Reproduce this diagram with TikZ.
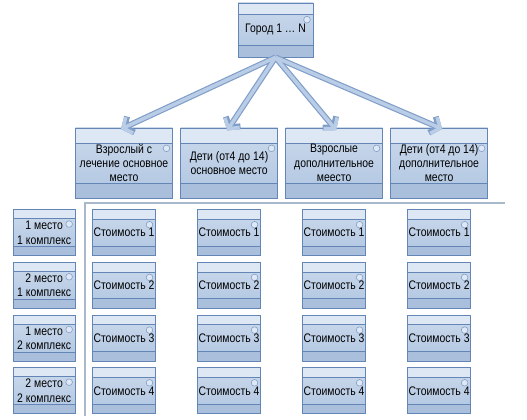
\documentclass[tikz,border=0pt]{standalone}
\usepackage{fontspec}
\setmainfont{Liberation Sans}[FakeStretch=0.84]
\usetikzlibrary{arrows.meta, positioning, calc}

\definecolor{umledge}{HTML}{6386B6}
\definecolor{umllight}{HTML}{DEE8F4}
\definecolor{umltop}{HTML}{CCDAEC}
\definecolor{umlbot}{HTML}{AFC5E1}
\definecolor{umldark}{HTML}{A9BFDC}
\definecolor{arredge}{HTML}{809EC8}
\definecolor{arrfill}{HTML}{BACDE7}
\definecolor{sepline}{HTML}{AAB8CC}

\begin{document}
\begin{tikzpicture}[
    x=0.03cm, y=-0.03cm,
    font=\fontsize{10.6}{12.2}\selectfont,
    uml/.style={rectangle, draw=umledge, line width=0.6pt,
                top color=umltop, bottom color=umlbot,
                align=center, inner sep=0pt,
                path picture={
                  \fill[umllight] (path picture bounding box.north west)
                    rectangle ([yshift=-#1]path picture bounding box.north east);
                  \fill[umldark] ([yshift=#1]path picture bounding box.south west)
                    rectangle (path picture bounding box.south east);
                  \draw[umledge] ([yshift=-#1]path picture bounding box.north west)
                    -- ([yshift=-#1]path picture bounding box.north east);
                  \draw[umledge] ([yshift=#1]path picture bounding box.south west)
                    -- ([yshift=#1]path picture bounding box.south east);
                  \draw[arredge, fill=umllight, line width=0.5pt]
                    ([xshift=-0.18cm, yshift=-#1-0.16cm]path picture bounding box.north east)
                    circle (0.1cm);
                }},
    town/.style={uml=0.34cm, minimum width=2.25cm, minimum height=1.62cm},
    cls/.style={uml=0.45cm, minimum width=2.91cm, minimum height=2.1cm},
    cost/.style={uml=0.29cm, minimum width=1.89cm, minimum height=1.38cm},
    place/.style={uml=0.27cm, minimum width=1.86cm, minimum height=1.38cm},
    arrback/.style={line width=5pt, draw=arredge, shorten >=-0.1cm,
                    -{Straight Barb[length=6pt, width=15pt]}},
    arrfront/.style={line width=3pt, draw=arrfill, shorten >=-0.1cm,
                     -{Straight Barb[length=6pt, width=15pt]}},
    sep/.style={draw=sepline, line width=1.1pt}
  ]
  \useasboundingbox (0,0) rectangle (527,420);

  \node[town] (town) at (275.5,30) {Город 1 \dots\ N};

  \node[cls] (b1) at (124,163) {Взрослый с\\лечение основное\\место};
  \node[cls, right=0.22cm of b1] (b2) {Дети (от4 до 14)\\основное место};
  \node[cls, right=0.22cm of b2] (b3) {Взрослые\\дополнительное\\меесто};
  \node[cls, right=0.22cm of b3] (b4) {Дети (от4 до 14)\\дополнительное\\место};

  % cost grid
  \foreach \col in {1,...,4} {
    \node[cost, below=0.33cm of b\col] (c\col-1) {Стоимость 1};
    \foreach \row [evaluate=\row as \prev using int(\row-1)] in {2,3,4}
      \node[cost, below=0.18cm of c\col-\prev] (c\col-\row) {Стоимость \row};
  }

  \node[place, left=0.5cm of c1-1] (p1) {1 место\\1 комплекс};
  \node[place, left=0.5cm of c1-2] (p2) {2 место\\1 комплекс};
  \node[place, left=0.5cm of c1-3] (p3) {1 место\\2 комплекс};
  \node[place, left=0.5cm of c1-4] (p4) {2 место\\2 комплекс};

  \coordinate (sepL) at (85,203);
  \coordinate (sepR) at (505,203);
  \coordinate (sepB) at (85,416);
  \draw[sep] (sepR) -- (sepL) -- (sepB);

  \foreach \b in {b1,b2,b3,b4}
    \draw[arrback] (town.south) -- (\b.north);
  \foreach \b in {b1,b2,b3,b4}
    \draw[arrfront] (town.south) -- (\b.north);
\end{tikzpicture}
\end{document}
